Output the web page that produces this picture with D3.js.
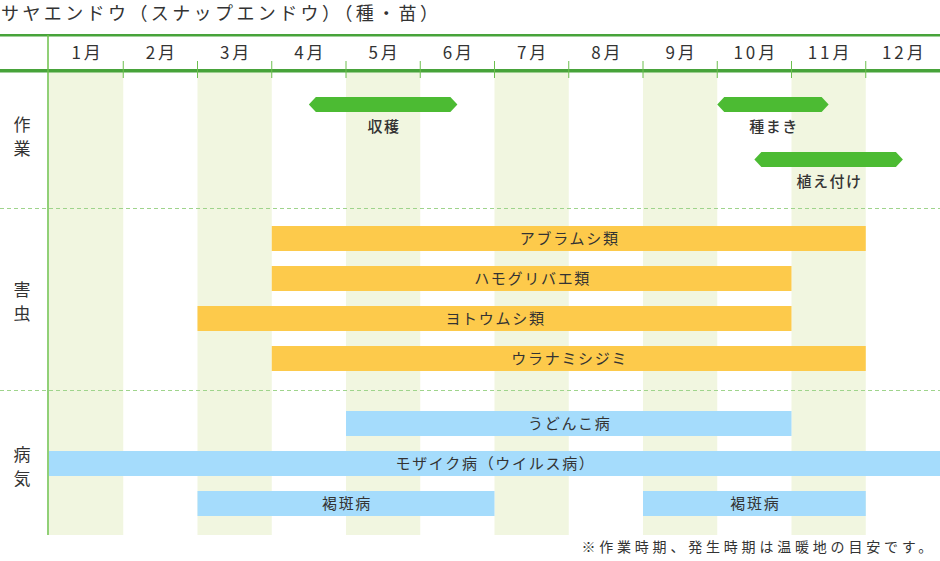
<!DOCTYPE html>
<html>
<head>
<meta charset="utf-8">
<script src="https://cdn.jsdelivr.net/npm/d3@7"></script>
<style>
  body { margin: 0; background: #fff; }
  text { font-family: "Noto Sans CJK JP", "Noto Sans", sans-serif; fill: #333; }
</style>
</head>
<body>
<div id="chart"></div>
<script>
const width = 940,
  height = 561;

const title = "サヤエンドウ（スナップエンドウ）（種・苗）";
const note = "※作業時期、発生時期は温暖地の目安です。";
const months = ["1月", "2月", "3月", "4月", "5月", "6月", "7月", "8月", "9月", "10月", "11月", "12月"];

const groups = ["作業", "害虫", "病気"];

// work periods (months, 0 = start of Jan)
const workNames = ["収穫", "種まき", "植え付け"];
const workStart = [3.5, 9, 9.5];
const workEnd = [5.5, 10.5, 11.5];
const workRow = [0, 0, 1];

const pestNames = ["アブラムシ類", "ハモグリバエ類", "ヨトウムシ類", "ウラナミシジミ"];
const pestStart = [3, 3, 2, 3];
const pestEnd = [11, 10, 10, 11];

const diseaseNames = ["うどんこ病", "モザイク病（ウイルス病）", "褐斑病", "褐斑病"];
const diseaseStart = [4, 0, 2, 8];
const diseaseEnd = [10, 12, 6, 11];
const diseaseRow = [0, 1, 2, 2];

const x = d3.scaleLinear().domain([0, 12]).range([49, 940]);

const svg = d3
  .select("#chart")
  .append("svg")
  .attr("width", width)
  .attr("height", height);

// title
svg
  .append("text")
  .attr("x", 1)
  .attr("y", 20)
  .attr("font-size", 18)
  .attr("letter-spacing", "3.4px")
  .text(title);

// shaded odd months
svg
  .selectAll(".shade")
  .data(d3.range(0, 12, 2))
  .enter()
  .append("rect")
  .attr("x", (d) => x(d))
  .attr("y", 72)
  .attr("width", (d) => x(d + 1) - x(d))
  .attr("height", 535 - 72)
  .attr("fill", "#f1f6e0");

// header lines
svg.append("rect").attr("x", 0).attr("y", 34).attr("width", width).attr("height", 2.5).attr("fill", "#47a33a");
svg.append("rect").attr("x", 0).attr("y", 69).attr("width", width).attr("height", 3.5).attr("fill", "#47a33a");

// month ticks
svg
  .selectAll(".tick")
  .data(d3.range(1, 12))
  .enter()
  .append("line")
  .attr("x1", (d) => x(d))
  .attr("x2", (d) => x(d))
  .attr("y1", 61)
  .attr("y2", 78)
  .attr("stroke", "#6cbf4f")
  .attr("stroke-width", 1);

// month labels
svg
  .selectAll(".month")
  .data(months)
  .enter()
  .append("text")
  .attr("x", (d, i) => x(i + 0.5) + 1.5)
  .attr("y", 59)
  .attr("text-anchor", "middle")
  .attr("font-size", 17)
  .attr("letter-spacing", "3px")
  .text((d) => d);

// left axis line
svg.append("line").attr("x1", 48).attr("x2", 48).attr("y1", 35).attr("y2", 535).attr("stroke", "#6cc04a").attr("stroke-width", 1.5);

// dashed separators
[208.5, 390.5].forEach((y) => {
  svg
    .append("line")
    .attr("x1", 0)
    .attr("x2", width)
    .attr("y1", y)
    .attr("y2", y)
    .attr("stroke", "#9fd48c")
    .attr("stroke-dasharray", "4,3")
    .attr("stroke-width", 1);
});

// group labels (vertical)
const groupY = [[131, 155], [296, 320], [461, 485]];
groups.forEach((g, gi) => {
  g.split("").forEach((ch, ci) => {
    svg
      .append("text")
      .attr("x", 22)
      .attr("y", groupY[gi][ci])
      .attr("text-anchor", "middle")
      .attr("font-size", 17)
      .text(ch);
  });
});

// work arrows
const workRowY = [97, 152];
const arrowH = 15,
  tip = 7;
workNames.forEach((name, i) => {
  const x0 = x(workStart[i]),
    x1 = x(workEnd[i]),
    y0 = workRowY[workRow[i]];
  const pts = [
    [x0, y0 + arrowH / 2],
    [x0 + tip, y0],
    [x1 - tip, y0],
    [x1, y0 + arrowH / 2],
    [x1 - tip, y0 + arrowH],
    [x0 + tip, y0 + arrowH],
  ];
  svg.append("polygon").attr("points", pts.map((p) => p.join(",")).join(" ")).attr("fill", "#4cbb33");
  svg
    .append("text")
    .attr("x", (x0 + x1) / 2 + 1)
    .attr("y", y0 + 35)
    .attr("text-anchor", "middle")
    .attr("font-size", 15)
    .attr("font-weight", 500)
    .attr("letter-spacing", "1.5px")
    .text(name);
});

// bars
function drawBars(names, starts, ends, rows, y0, color) {
  names.forEach((name, i) => {
    const x0 = x(starts[i]),
      x1 = x(ends[i]),
      y = y0 + rows[i] * 40;
    svg.append("rect").attr("x", x0).attr("y", y).attr("width", x1 - x0).attr("height", 25).attr("fill", color);
    svg
      .append("text")
      .attr("x", (x0 + x1) / 2 + 1)
      .attr("y", y + 18)
      .attr("text-anchor", "middle")
      .attr("font-size", 15)
      .attr("letter-spacing", "1.7px")
      .text(name);
  });
}
drawBars(pestNames, pestStart, pestEnd, d3.range(pestNames.length), 226, "#fdca4b");
drawBars(diseaseNames, diseaseStart, diseaseEnd, diseaseRow, 411, "#a5dcfc");

// note
svg
  .append("text")
  .attr("x", 936)
  .attr("y", 552)
  .attr("text-anchor", "end")
  .attr("font-size", 14)
  .attr("letter-spacing", "3.8px")
  .text(note);
</script>
</body>
</html>
